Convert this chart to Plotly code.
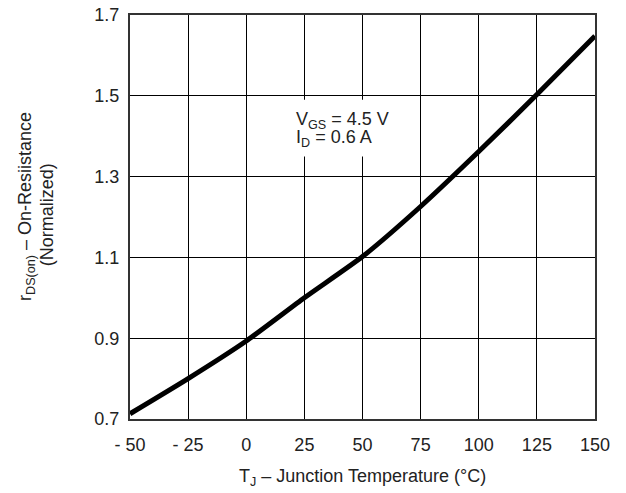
import plotly.graph_objects as go

temps = [-50, -25, 0, 25, 50, 75, 100, 125, 150]
rds_norm = [0.713, 0.800, 0.893, 1.000, 1.102, 1.226, 1.362, 1.503, 1.648]

x_ticks = [-50, -25, 0, 25, 50, 75, 100, 125, 150]
x_ticktext = ["- 50", "- 25", "0", "25", "50", "75", "100", "125", "150"]
y_ticks = [0.7, 0.9, 1.1, 1.3, 1.5, 1.7]
y_ticktext = ["0.7", "0.9", "1.1", "1.3", "1.5", "1.7"]

FONT = "Liberation Sans, Arial, Helvetica, sans-serif"
TXT = "#222222"
FS = 18

fig = go.Figure()
fig.add_trace(go.Scatter(
    x=temps, y=rds_norm, mode="lines",
    line=dict(color="black", width=5, shape="spline", smoothing=0.6),
    hoverinfo="skip", showlegend=False,
))

# white patch behind the condition text (breaks the grid lines)
fig.add_shape(type="rect", xref="x", yref="y", x0=19, x1=62, y0=1.35, y1=1.49,
              fillcolor="white", line=dict(width=0), layer="above")

fig.update_layout(
    width=626, height=493,
    margin=dict(l=122, r=39, t=7, b=82),
    paper_bgcolor="white", plot_bgcolor="white",
    font=dict(family=FONT, size=FS, color=TXT),
    showlegend=False,
    xaxis=dict(
        range=[-50, 150], tickmode="array", tickvals=x_ticks, ticktext=x_ticktext,
        showgrid=True, gridcolor="black", gridwidth=1,
        showline=True, linecolor="#333333", linewidth=2, mirror=True,
        ticks="", zeroline=False, fixedrange=True, ticklabelstandoff=8,
        ticklabeloverflow="allow", automargin=False,
        tickfont=dict(size=FS, color=TXT),
    ),
    yaxis=dict(
        range=[0.7, 1.7], tickmode="array", tickvals=y_ticks, ticktext=y_ticktext,
        showgrid=True, gridcolor="black", gridwidth=1,
        showline=True, linecolor="#333333", linewidth=2, mirror=True,
        ticks="", zeroline=False, fixedrange=True, ticklabelstandoff=5,
        ticklabeloverflow="allow", automargin=False,
        tickfont=dict(size=FS, color=TXT),
    ),
    annotations=[
        dict(
            text="V<sub>GS</sub> = 4.5 V",
            x=20.5, y=1.44, xref="x", yref="y",
            xanchor="left", yanchor="middle", align="left",
            showarrow=False,
            font=dict(size=FS, color=TXT, family=FONT),
        ),
        dict(
            text="I<sub>D</sub> = 0.6 A",
            x=20.5, y=1.394, xref="x", yref="y",
            xanchor="left", yanchor="middle", align="left",
            showarrow=False,
            font=dict(size=FS, color=TXT, family=FONT),
        ),
        dict(
            text="T<sub>J</sub> – Junction Temperature (°C)",
            x=0.5, y=-0.144, xref="paper", yref="paper",
            xanchor="center", yanchor="middle", showarrow=False,
            font=dict(size=FS, color=TXT, family=FONT),
        ),
        dict(
            text="r<sub>DS(on)</sub> – On-Resiistance",
            x=-0.2215, y=0.525, xref="paper", yref="paper",
            xanchor="center", yanchor="middle", textangle=-90,
            showarrow=False,
            font=dict(size=FS, color=TXT, family=FONT),
        ),
        dict(
            text="(Normalized)",
            x=-0.1785, y=0.507, xref="paper", yref="paper",
            xanchor="center", yanchor="middle", textangle=-90,
            showarrow=False,
            font=dict(size=FS, color=TXT, family=FONT),
        ),
    ],
)

fig.write_html("out.html")
